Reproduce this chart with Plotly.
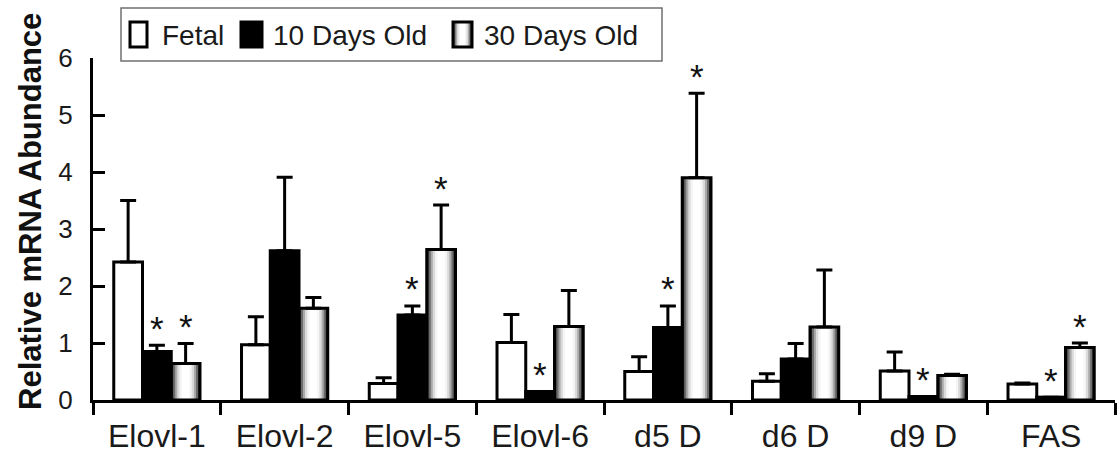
import plotly.graph_objects as go

categories = ["Elovl-1", "Elovl-2", "Elovl-5", "Elovl-6", "d5 D", "d6 D", "d9 D", "FAS"]
series_names = ["Fetal", "10 Days Old", "30 Days Old"]
fetal = [2.42, 0.97, 0.29, 1.01, 0.50, 0.33, 0.51, 0.28]
fetal_err = [1.08, 0.49, 0.10, 0.49, 0.26, 0.13, 0.33, 0.02]
d10 = [0.85, 2.62, 1.49, 0.15, 1.27, 0.72, 0.06, 0.05]
d10_err = [0.11, 1.29, 0.16, 0.0, 0.38, 0.27, 0.0, 0.0]
d30 = [0.64, 1.61, 2.64, 1.29, 3.90, 1.28, 0.43, 0.92]
d30_err = [0.35, 0.19, 0.78, 0.63, 1.48, 1.00, 0.02, 0.08]
sig10 = [1, 0, 1, 1, 1, 0, 1, 1]
sig30 = [1, 0, 1, 0, 1, 0, 0, 1]
y_ticks = [0, 1, 2, 3, 4, 5, 6]

FONT = "Liberation Sans, Arial, Helvetica, sans-serif"
W, H = 1120, 469
ML, MR, MT, MB = 93, 5, 58, 69
PW, PH = W - ML - MR, H - MT - MB

def px(xp):
    return (xp - ML) / PW

def py(yp):
    return (H - MB - yp) / PH

BW = 0.225
offsets = [-1.5 * BW, -0.5 * BW, 0.5 * BW]
LW = 3

fig = go.Figure()

def err(vals):
    return dict(type="data", symmetric=False, array=vals, arrayminus=[0] * len(vals),
                color="black", thickness=3, width=8)

# Fetal (white)
fig.add_trace(go.Bar(x=categories, y=fetal, width=BW, offset=offsets[0], name=series_names[0],
                     marker=dict(color="white", line=dict(color="black", width=LW)),
                     error_y=err(fetal_err), showlegend=False))
# 10 days (black)
fig.add_trace(go.Bar(x=categories, y=d10, width=BW, offset=offsets[1], name=series_names[1],
                     marker=dict(color="black", line=dict(color="black", width=LW)),
                     error_y=err(d10_err), showlegend=False))
# 30 days (cylinder-like gradient via nested layers)
grad = [(1.0, "#2e2e2e"), (0.86, "#6c6c6c"), (0.72, "#aaaaaa"), (0.58, "#dadada"), (0.42, "#f5f5f5"), (0.26, "#ffffff")]
for f, c in grad:
    fig.add_trace(go.Bar(x=categories, y=d30, width=BW * f, offset=offsets[2] + BW * (0.5 - f / 2),
                         marker=dict(color=c, line=dict(width=0)), showlegend=False, hoverinfo="skip"))
fig.add_trace(go.Bar(x=categories, y=d30, width=BW, offset=offsets[2], name=series_names[2],
                     marker=dict(color="rgba(0,0,0,0)", line=dict(color="black", width=LW)),
                     error_y=err(d30_err), showlegend=False))

annotations = []
for i in range(len(categories)):
    if sig10[i]:
        annotations.append(dict(x=i + offsets[1] + BW / 2, y=d10[i] + d10_err[i], xref="x", yref="y",
                                text="*", showarrow=False, yanchor="middle", yshift=17,
                                font=dict(family=FONT, size=35, color="#111")))
    if sig30[i]:
        annotations.append(dict(x=i + offsets[2] + BW / 2, y=d30[i] + d30_err[i], xref="x", yref="y",
                                text="*", showarrow=False, yanchor="middle", yshift=17,
                                font=dict(family=FONT, size=35, color="#111")))

# y axis title
annotations.append(dict(x=px(30), y=py(212), xref="paper", yref="paper", text="<b>Relative mRNA Abundance</b>",
                        textangle=-90, showarrow=False, xanchor="center", yanchor="middle",
                        font=dict(family=FONT, size=31, color="#111")))

# legend (manual)
shapes = [dict(type="rect", xref="paper", yref="paper", x0=px(121), x1=px(662), y0=py(61), y1=py(8),
               line=dict(color="#707070", width=1.5), fillcolor="white", layer="above")]
icon_y0, icon_y1 = py(47), py(22)
shapes.append(dict(type="rect", xref="paper", yref="paper", x0=px(130), x1=px(147), y0=icon_y0, y1=icon_y1,
                   line=dict(color="black", width=3), fillcolor="white", layer="above"))
shapes.append(dict(type="rect", xref="paper", yref="paper", x0=px(241), x1=px(262), y0=icon_y0, y1=icon_y1,
                   line=dict(color="black", width=3), fillcolor="black", layer="above"))
ix0, ix1 = 453, 472
for f, c in grad:
    cx = (ix0 + ix1) / 2
    hw = (ix1 - ix0) * f / 2
    shapes.append(dict(type="rect", xref="paper", yref="paper", x0=px(cx - hw), x1=px(cx + hw), y0=icon_y0, y1=icon_y1,
                       line=dict(width=0), fillcolor=c, layer="above"))
shapes.append(dict(type="rect", xref="paper", yref="paper", x0=px(ix0), x1=px(ix1), y0=icon_y0, y1=icon_y1,
                   line=dict(color="black", width=3), fillcolor="rgba(0,0,0,0)", layer="above"))
for xpos, name in zip([160, 271, 482], series_names):
    annotations.append(dict(x=px(xpos), y=py(35), xref="paper", yref="paper", text=name, showarrow=False,
                            xanchor="left", yanchor="middle", font=dict(family=FONT, size=28, color="#1a1a1a")))

fig.update_layout(
    width=W, height=H, margin=dict(l=ML, r=MR, t=MT, b=MB),
    paper_bgcolor="white", plot_bgcolor="white",
    barmode="overlay", showlegend=False,
    annotations=annotations, shapes=shapes,
    xaxis=dict(type="category", range=[-0.5, len(categories) - 0.5], showline=True, linecolor="black", linewidth=3,
               ticks="outside", tickson="boundaries", ticklen=12, tickwidth=2.5, tickcolor="black",
               showgrid=False, zeroline=False, ticklabelstandoff=6,
               tickfont=dict(family=FONT, size=32, color="#1a1a1a")),
    yaxis=dict(range=[0, 6], tickvals=y_ticks, showline=True, linecolor="black", linewidth=3,
               ticks="inside", ticklen=12, tickwidth=2.5, tickcolor="black",
               showgrid=False, zeroline=False, ticklabelstandoff=12,
               tickfont=dict(family=FONT, size=26, color="#1a1a1a")),
)

fig.write_html("out.html", config={"displayModeBar": False},
               post_script="document.body.style.margin='0px';document.body.style.overflow='hidden';")
